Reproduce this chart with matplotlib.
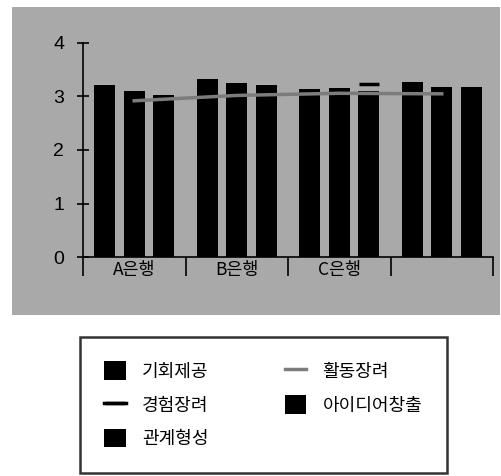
import numpy as np
import matplotlib.pyplot as plt
from matplotlib.patches import Rectangle

plt.rcParams['font.family'] = ['Noto Sans CJK KR', 'DejaVu Sans']

# 은행별 평균 점수
banks = ['A은행', 'B은행', 'C은행', '']
opportunity = [3.21, 3.32, 3.14, 3.28]     # 기회제공
relation = [3.11, 3.25, 3.15, 3.17]        # 관계형성
idea = [3.02, 3.22, 3.11, 3.17]            # 아이디어창출
activity = [2.92, 3.02, 3.06, 3.05]        # 활동장려 (선)
experience = [np.nan, np.nan, 3.23, np.nan]  # 경험장려 (표시점)

bg = '#a9a9a9'
x = np.arange(len(banks))
w = 0.205
off = 0.29

fig = plt.figure(figsize=(5.01, 4.76), dpi=100)
fig.patch.set_facecolor('white')
fig.patches.append(Rectangle((12 / 501, 1 - 315 / 476), 488 / 501, 308 / 476,
                             transform=fig.transFigure, facecolor=bg,
                             edgecolor='none', zorder=-5))

ax = fig.add_axes([83 / 501, 1 - 257 / 476, 410 / 501, 214 / 476])
ax.set_zorder(2)
ax.set_facecolor(bg)

b1 = ax.bar(x - off, opportunity, w, color='black', label='기회제공', zorder=2)
l1, = ax.plot(x + off, experience, color='black', marker='_', markersize=15,
              markeredgewidth=2.5, lw=2.5, label='경험장려', zorder=4)
b2 = ax.bar(x, relation, w, color='black', label='관계형성', zorder=2)
l2, = ax.plot(x, activity, color='#7c7c7c', lw=2.5, label='활동장려', zorder=3)
b3 = ax.bar(x + off, idea, w, color='black', label='아이디어창출', zorder=2)

ax.set_xlim(-0.5, len(banks) - 0.5)
ax.set_ylim(0, 4)
ax.spines['top'].set_visible(False)
ax.spines['right'].set_visible(False)
ax.spines['left'].set_linewidth(1.2)
ax.spines['bottom'].set_linewidth(1.2)

ax.set_yticks([0, 1, 2, 3, 4])
ax.tick_params(axis='y', direction='inout', length=9, width=1.2, pad=9,
               labelsize=14)
for t in ax.get_yticklabels():
    t.set_family('Liberation Sans')

# 범주 경계에 눈금, 범주 중앙에 이름
ax.set_xticks(np.arange(-0.5, len(banks), 1.0))
ax.set_xticklabels([])
ax.tick_params(axis='x', which='major', direction='out', length=14, width=1.2)
ax.set_xticks(x, minor=True)
ax.set_xticklabels(banks, minor=True)
ax.tick_params(axis='x', which='minor', length=0, pad=3, labelsize=12.5)

handles = [b1, l1, b2, l2, b3]
leg = fig.legend(handles=handles, ncol=2, loc='upper left',
                 bbox_to_anchor=(80 / 501, 1 - 337 / 476),
                 fontsize=13, frameon=True, fancybox=False,
                 handlelength=1.2, handleheight=1.2, handletextpad=0.9,
                 columnspacing=4.2, labelspacing=0.8, borderpad=1.35,
                 borderaxespad=0)
leg.get_frame().set_edgecolor('black')
leg.get_frame().set_linewidth(1.8)

plt.savefig('out.png', dpi=100)
